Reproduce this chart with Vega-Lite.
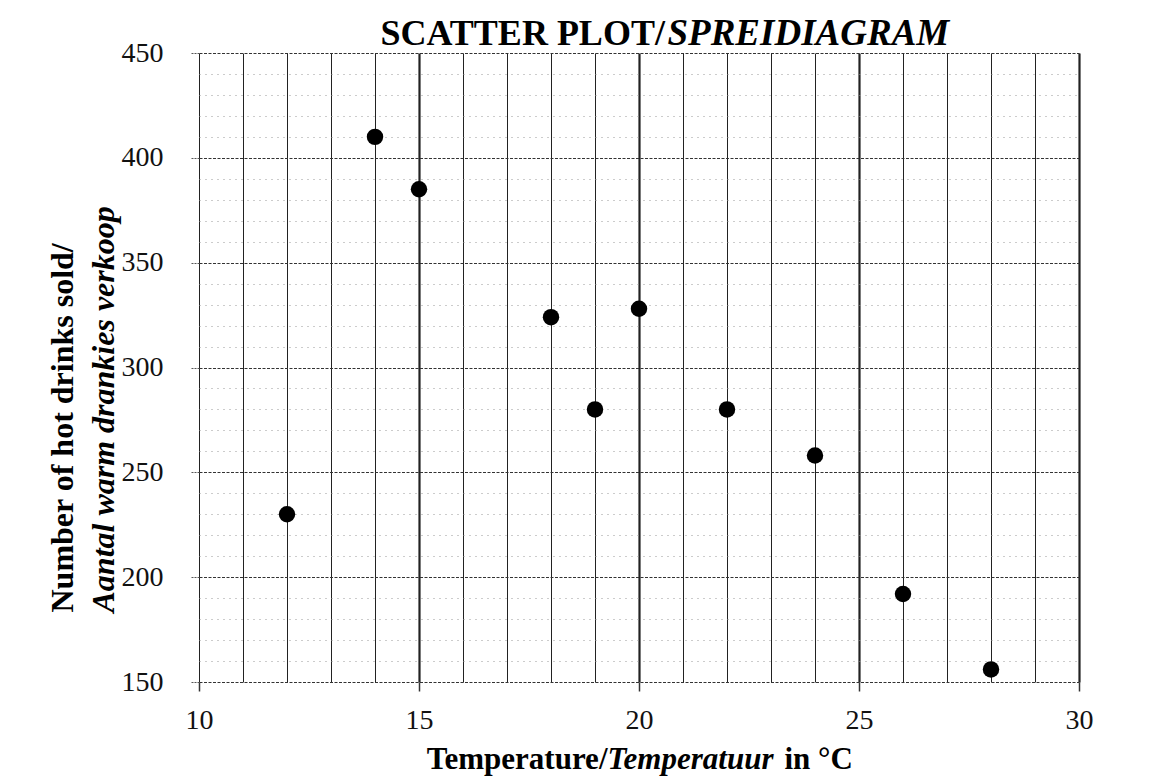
{
  "$schema": "https://vega.github.io/schema/vega-lite/v6.json",
  "width": 880,
  "height": 629,
  "autosize": {"type": "none"},
  "padding": {"left": 199, "top": 53, "right": 71, "bottom": 99},
  "background": "white",
  "config": {
    "view": {"stroke": null},
    "font": "Liberation Serif",
    "axis": {"labelFont": "Liberation Serif", "titleFont": "Liberation Serif", "titleColor": "#000", "labelColor": "#111"}
  },
  "data": {
    "values": [
      {"temp": 12, "drinks": 230},
      {"temp": 14, "drinks": 410},
      {"temp": 15, "drinks": 385},
      {"temp": 18, "drinks": 324},
      {"temp": 19, "drinks": 280},
      {"temp": 20, "drinks": 328},
      {"temp": 22, "drinks": 280},
      {"temp": 24, "drinks": 258},
      {"temp": 26, "drinks": 192},
      {"temp": 28, "drinks": 156}
    ]
  },
  "layer": [
    {
      "mark": {"type": "circle", "size": 270, "color": "#000", "opacity": 1},
      "encoding": {
        "x": {
          "field": "temp", "type": "quantitative",
          "scale": {"domain": [10, 30], "nice": false, "zero": false},
          "axis": {
            "values": [10,11,12,13,14,15,16,17,18,19,20,21,22,23,24,25,26,27,28,29,30],
            "grid": true,
            "gridColor": "#222",
            "gridWidth": {"condition": {"test": "datum.value % 5 === 0 && datum.value > 10", "value": 2.2}, "value": 1},
            "domain": false,
            "ticks": false,
            "labelExpr": "datum.value % 5 === 0 ? datum.label : ''",
            "labelFontSize": 28,
            "labelPadding": 24,
            "labelFlush": false,
            "labelOverlap": false,
            "title": "Temperature/",
            "titleFontSize": 31,
            "titleFontWeight": "bold",
            "titleAlign": "right",
            "titleAngle": 0,
            "titleBaseline": "alphabetic",
            "titleX": 408,
            "titleY": 86
          }
        },
        "y": {
          "field": "drinks", "type": "quantitative",
          "scale": {"domain": [150, 450], "nice": false, "zero": false},
          "axis": {
            "values": [150,160,170,180,190,200,210,220,230,240,250,260,270,280,290,300,310,320,330,340,350,360,370,380,390,400,410,420,430,440,450],
            "grid": true,
            "gridColor": {"condition": {"test": "datum.value % 50 === 0", "value": "#333"}, "value": "#999"},
            "gridDash": {"condition": {"test": "datum.value % 50 === 0", "value": [3, 1.5]}, "value": [1, 5]},
            "gridWidth": 1,
            "domain": false,
            "ticks": false,
            "labelExpr": "datum.value % 50 === 0 ? datum.label : ''",
            "labelFontSize": 28,
            "labelPadding": 36,
            "labelOverlap": false,
            "labelFlush": false,
            "title": "Number of hot drinks sold/",
            "titleFontSize": 32,
            "titleFontWeight": "bold",
            "titleAngle": 270,
            "titleAlign": "left",
            "titleBaseline": "alphabetic",
            "titleX": -127,
            "titleY": 559
          }
        }
      }
    },
    {
      "mark": {"type": "point", "opacity": 0},
      "encoding": {
        "x": {
          "field": "temp", "type": "quantitative",
          "axis": {
            "orient": "bottom",
            "grid": false, "domain": false, "ticks": false, "labels": false,
            "title": "Temperatuur",
            "titleFontSize": 31,
            "titleFontWeight": "bold",
            "titleFontStyle": "italic",
            "titleAlign": "left",
            "titleAngle": 0,
            "titleBaseline": "alphabetic",
            "titleX": 408,
            "titleY": 86
          }
        },
        "y": {
          "field": "drinks", "type": "quantitative",
          "axis": {
            "orient": "left",
            "values": [150, 200, 250, 300, 350, 400, 450],
            "grid": false, "domain": false, "labels": false,
            "ticks": true, "tickSize": 9, "tickColor": "#555", "tickDash": [2, 1],
            "title": "Aantal warm drankies verkoop",
            "titleFontSize": 32,
            "titleFontWeight": "bold",
            "titleFontStyle": "italic",
            "titleAngle": 270,
            "titleAlign": "left",
            "titleBaseline": "alphabetic",
            "titleX": -86,
            "titleY": 559
          }
        }
      }
    },
    {
      "mark": {"type": "point", "opacity": 0},
      "encoding": {
        "x": {
          "field": "temp", "type": "quantitative",
          "axis": {
            "orient": "top",
            "grid": false, "domain": false, "ticks": false, "labels": false,
            "title": "SCATTER PLOT/",
            "titleFontSize": 36,
            "titleFontWeight": "bold",
            "titleAlign": "left",
            "titleAngle": 0,
            "titleBaseline": "alphabetic",
            "titleX": 181,
            "titleY": -9
          }
        },
        "y": {
          "field": "drinks", "type": "quantitative",
          "axis": {
            "orient": "right",
            "grid": false, "domain": false, "ticks": false, "labels": false,
            "title": "SPREIDIAGRAM",
            "titleFontSize": 37,
            "titleFontWeight": "bold",
            "titleFontStyle": "italic",
            "titleAngle": 0,
            "titleAlign": "left",
            "titleBaseline": "alphabetic",
            "titleX": -412,
            "titleY": -9
          }
        }
      }
    },
    {
      "mark": {"type": "point", "opacity": 0},
      "encoding": {
        "x": {
          "field": "temp", "type": "quantitative",
          "axis": {
            "orient": "bottom",
            "values": [10, 15, 20, 25, 30],
            "grid": false, "domain": false, "labels": false,
            "ticks": true, "tickSize": 9, "tickColor": "#333", "tickWidth": 1.5,
            "title": "in °C",
            "titleFontSize": 31,
            "titleFontWeight": "bold",
            "titleAlign": "left",
            "titleAngle": 0,
            "titleBaseline": "alphabetic",
            "titleX": 585,
            "titleY": 86
          }
        },
        "y": {"field": "drinks", "type": "quantitative", "axis": null}
      }
    }
  ],
  "resolve": {"axis": {"x": "independent", "y": "independent"}}
}
